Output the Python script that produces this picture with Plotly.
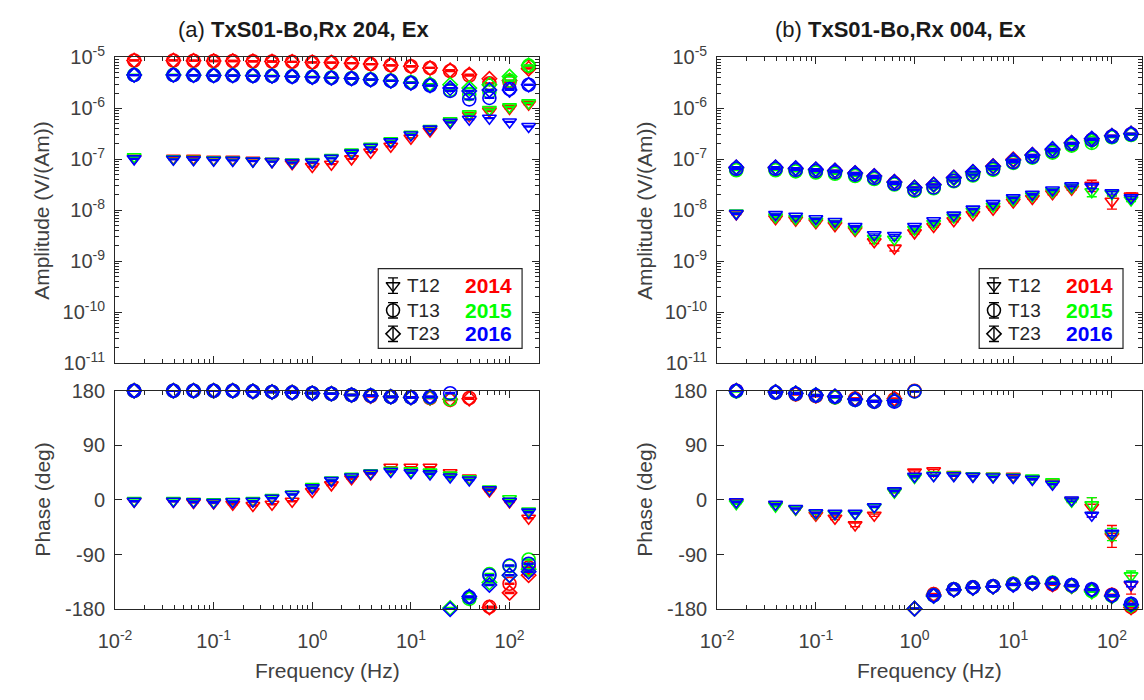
import plotly.graph_objects as go

W, H = 1144, 700

# ---------------- data ----------------
freq = [0.015625, 0.0390625, 0.0625, 0.1, 0.15625, 0.25, 0.390625, 0.625, 1.0, 1.5625,
        2.5, 3.90625, 6.25, 10.0, 15.625, 25.0, 39.0625, 62.5, 100.0, 156.25]

years = ['2014', '2015', '2016']
pairs = ['T12', 'T13', 'T23']
year_colors = ['#ff0000', '#00ff00', '#0000ff']

# (a) amplitude
a_amp_t12_2014 = [1.05e-7, 1.05e-7, 1.05e-7, 1.0e-7, 1.0e-7, 0.95e-7, 0.9e-7, 0.82e-7, 0.72e-7, 0.8e-7,
                  1.02e-7, 1.38e-7, 1.8e-7, 2.6e-7, 3.6e-7, 5.3e-7, 7.2e-7, 8.8e-7, 1.0e-6, 1.2e-6]
a_amp_t12_2015 = [1.12e-7, 1.02e-7, 1.0e-7, 0.98e-7, 0.97e-7, 0.93e-7, 0.91e-7, 0.88e-7, 0.9e-7, 1.08e-7,
                  1.38e-7, 1.8e-7, 2.3e-7, 3.1e-7, 4.0e-7, 5.7e-7, 7.8e-7, 9.5e-7, 1.07e-6, 1.28e-6]
a_amp_t12_2016 = [1.02e-7, 1.0e-7, 0.98e-7, 0.96e-7, 0.95e-7, 0.92e-7, 0.9e-7, 0.86e-7, 0.87e-7, 1.04e-7,
                  1.32e-7, 1.72e-7, 2.2e-7, 3.0e-7, 3.9e-7, 5.3e-7, 6.1e-7, 6.4e-7, 5.4e-7, 4.4e-7]
a_amp_t13_2014 = [8.7e-6, 8.7e-6, 8.6e-6, 8.5e-6, 8.5e-6, 8.4e-6, 8.3e-6, 8.2e-6, 8.0e-6, 7.9e-6,
                  7.7e-6, 7.4e-6, 7.0e-6, 6.7e-6, 6.2e-6, 5.4e-6, 4.4e-6, 3.1e-6, 3.3e-6, 6.6e-6]
a_amp_t23_2014 = [8.7e-6, 8.7e-6, 8.6e-6, 8.5e-6, 8.5e-6, 8.4e-6, 8.3e-6, 8.2e-6, 8.0e-6, 7.9e-6,
                  7.7e-6, 7.4e-6, 7.0e-6, 6.7e-6, 6.2e-6, 5.6e-6, 4.6e-6, 3.8e-6, 3.5e-6, 6.0e-6]
a_amp_t13_2015 = [4.55e-6, 4.55e-6, 4.5e-6, 4.45e-6, 4.45e-6, 4.4e-6, 4.35e-6, 4.25e-6, 4.15e-6, 4.0e-6,
                  3.9e-6, 3.7e-6, 3.5e-6, 3.25e-6, 2.9e-6, 2.3e-6, 1.9e-6, 2.1e-6, 3.5e-6, 6.9e-6]
a_amp_t23_2015 = [4.55e-6, 4.55e-6, 4.5e-6, 4.45e-6, 4.45e-6, 4.4e-6, 4.35e-6, 4.25e-6, 4.15e-6, 4.0e-6,
                  3.9e-6, 3.7e-6, 3.5e-6, 3.25e-6, 3.0e-6, 2.9e-6, 2.5e-6, 2.9e-6, 4.2e-6, 7.0e-6]
a_amp_t13_2016 = [4.5e-6, 4.5e-6, 4.45e-6, 4.4e-6, 4.4e-6, 4.35e-6, 4.3e-6, 4.2e-6, 4.1e-6, 3.95e-6,
                  3.85e-6, 3.65e-6, 3.45e-6, 3.15e-6, 2.8e-6, 2.2e-6, 1.5e-6, 1.6e-6, 2.4e-6, 2.9e-6]
a_amp_t23_2016 = [4.5e-6, 4.5e-6, 4.45e-6, 4.4e-6, 4.4e-6, 4.35e-6, 4.3e-6, 4.2e-6, 4.1e-6, 3.95e-6,
                  3.85e-6, 3.65e-6, 3.45e-6, 3.15e-6, 2.8e-6, 2.5e-6, 2.2e-6, 2.3e-6, 2.3e-6, 2.9e-6]

# (a) phase
a_ph_t12_2014 = [-2, -2, -4, -5, -7, -9, -7, -2, 14, 25, 35, 43, 54, 54, 54, 45, 36, 15, -3, -30]
a_ph_t12_2015 = [-1, -1, -2, -3, -2, -1, 4, 10, 22, 33, 39, 45, 49, 48, 46, 41, 35, 18, 2, -18]
a_ph_t12_2016 = [-2, -2, -3, -4, -3, -2, 3, 9, 20, 32, 38, 44, 47, 45, 43, 38, 33, 17, -2, -20]
a_ph_t13_2014 = [180, 180, 180, 180, 180, 179, 178, 177, 176, 175, 173, 171, 170, 169, 168, 165, 168, -176, -138, -111]
a_ph_t23_2014 = [180, 180, 180, 180, 180, 179, 178, 177, 176, 175, 173, 171, 170, 169, 168, 166, 167, -177, -153, -124]
a_ph_t13_2015 = [180, 180, 180, 180, 180, 179, 178, 177, 176, 175, 173, 172, 170, 169, 169, 166, -163, -122, -109, -98]
a_ph_t23_2015 = [180, 180, 180, 180, 180, 179, 178, 177, 176, 175, 173, 172, 170, 169, 169, -178, -162, -136, -124, -114]
a_ph_t13_2016 = [180, 180, 180, 180, 180, 179, 178, 177, 176, 175, 173, 172, 170, 169, 170, 176, -160, -124, -108, -105]
a_ph_t23_2016 = [180, 180, 180, 180, 180, 179, 178, 177, 176, 175, 173, 172, 170, 169, 170, -180, -159, -140, -124, -118]

# (b) amplitude
b_amp_t12_2014 = [8.5e-9, 6.8e-9, 6.4e-9, 5.7e-9, 5.0e-9, 4.0e-9, 2.4e-9, 1.8e-9, 3.6e-9, 4.8e-9,
                  6.2e-9, 8.2e-9, 1.05e-8, 1.45e-8, 1.7e-8, 2.1e-8, 2.6e-8, 3.1e-8, 1.5e-8, 1.9e-8]
b_amp_t12_2015 = [8.8e-9, 7.4e-9, 6.9e-9, 6.1e-9, 5.5e-9, 4.3e-9, 2.8e-9, 2.7e-9, 4.2e-9, 5.5e-9,
                  7.3e-9, 9.5e-9, 1.2e-8, 1.6e-8, 1.9e-8, 2.3e-8, 2.8e-8, 2.3e-8, 2.1e-8, 1.6e-8]
b_amp_t12_2016 = [8.6e-9, 8.2e-9, 7.6e-9, 6.8e-9, 6.0e-9, 4.8e-9, 3.3e-9, 3.2e-9, 4.8e-9, 6.2e-9,
                  8.0e-9, 1.05e-8, 1.35e-8, 1.75e-8, 2.05e-8, 2.5e-8, 3.0e-8, 2.9e-8, 2.2e-8, 1.75e-8]
b_amp_t12_errpct_2014 = [4, 4, 4, 4, 4, 5, 8, 12, 5, 4, 4, 4, 4, 4, 4, 4, 5, 25, 30, 15]
b_amp_t12_errpct_2015 = [3, 3, 3, 3, 3, 3, 4, 5, 3, 3, 3, 3, 3, 3, 3, 3, 4, 20, 10, 8]
b_amp_t12_errpct_2016 = [3, 3, 3, 3, 3, 3, 4, 4, 3, 3, 3, 3, 3, 3, 3, 3, 4, 8, 6, 6]
b_amp_t13_2014 = [6.4e-8, 6.4e-8, 6.1e-8, 5.8e-8, 5.5e-8, 5.0e-8, 4.3e-8, 3.4e-8, 2.5e-8, 2.8e-8,
                  3.8e-8, 5.0e-8, 6.6e-8, 9.0e-8, 1.12e-7, 1.4e-7, 1.95e-7, 2.4e-7, 2.8e-7, 3.1e-7]
b_amp_t23_2014 = [6.9e-8, 6.9e-8, 6.6e-8, 6.3e-8, 6.0e-8, 5.4e-8, 4.7e-8, 3.6e-8, 2.8e-8, 3.2e-8,
                  4.4e-8, 5.6e-8, 7.4e-8, 1.0e-7, 1.22e-7, 1.55e-7, 2.1e-7, 2.5e-7, 2.9e-7, 3.2e-7]
b_amp_t13_2015 = [6.1e-8, 6.1e-8, 5.8e-8, 5.5e-8, 5.2e-8, 4.7e-8, 4.1e-8, 3.2e-8, 2.4e-8, 2.7e-8,
                  3.7e-8, 4.8e-8, 6.2e-8, 8.5e-8, 1.08e-7, 1.35e-7, 1.85e-7, 2.1e-7, 2.7e-7, 3.0e-7]
b_amp_t23_2015 = [6.7e-8, 6.7e-8, 6.4e-8, 6.1e-8, 5.8e-8, 5.2e-8, 4.5e-8, 3.5e-8, 2.7e-8, 3.1e-8,
                  4.2e-8, 5.4e-8, 7.1e-8, 9.5e-8, 1.18e-7, 1.5e-7, 2.05e-7, 2.3e-7, 2.85e-7, 3.15e-7]
b_amp_t13_2016 = [6.5e-8, 6.5e-8, 6.2e-8, 5.9e-8, 5.6e-8, 5.0e-8, 4.3e-8, 3.3e-8, 2.5e-8, 2.8e-8,
                  3.8e-8, 5.0e-8, 6.5e-8, 8.8e-8, 1.12e-7, 1.45e-7, 2.0e-7, 2.4e-7, 2.8e-7, 3.1e-7]
b_amp_t23_2016 = [7.0e-8, 7.0e-8, 6.7e-8, 6.4e-8, 6.0e-8, 5.4e-8, 4.7e-8, 3.6e-8, 2.8e-8, 3.2e-8,
                  4.4e-8, 5.7e-8, 7.3e-8, 9.7e-8, 1.22e-7, 1.6e-7, 2.1e-7, 2.55e-7, 2.9e-7, 3.2e-7]

# (b) phase
b_ph_t12_2014 = [-4, -8, -15, -25, -30, -41, -25, 14, 46, 48, 42, 40, 39, 39, 35, 28, -1, -12, -60, -140]
b_ph_t12_2015 = [-6, -10, -15, -22, -23, -23, -12, 13, 37, 41, 41, 40, 39, 38, 36, 30, -2, -8, -57, -125]
b_ph_t12_2016 = [-3, -7, -14, -21, -22, -22, -11, 15, 39, 40, 40, 39, 38, 37, 34, 26, 0, -25, -55, -139]
b_ph_t12_err_2014 = [1, 1, 1, 2, 2, 3, 2, 2, 2, 2, 1, 1, 1, 1, 1, 1, 2, 16, 18, 15]
b_ph_t12_err_2015 = [1, 1, 1, 1, 1, 1, 1, 1, 1, 1, 1, 1, 1, 1, 1, 1, 2, 12, 10, 8]
b_ph_t12_err_2016 = [1, 1, 1, 1, 1, 1, 1, 1, 1, 1, 1, 1, 1, 1, 1, 1, 2, 3, 4, 4]
b_ph_t13_2014 = [180, 177, 174, 171, 169, 167, 162, 166, 180, -155, -147, -144, -142, -138, -137, -139, -141, -148, -156, -176]
b_ph_t23_2014 = [180, 178, 175, 172, 170, 167, 163, 167, -179, -156, -148, -145, -143, -139, -137, -139, -142, -149, -157, -177]
b_ph_t13_2015 = [179, 177, 175, 172, 169, 165, 162, 163, 179, -157, -147, -144, -142, -138, -136, -136, -141, -150, -158, -173]
b_ph_t23_2015 = [180, 178, 176, 173, 170, 166, 163, 164, -179, -158, -148, -145, -143, -139, -137, -137, -142, -151, -159, -174]
b_ph_t13_2016 = [180, 177, 175, 172, 170, 165, 162, 162, 179, -157, -147, -144, -142, -139, -137, -137, -140, -147, -157, -171]
b_ph_t23_2016 = [180, 178, 176, 173, 171, 166, 163, 164, -179, -158, -148, -145, -143, -140, -137, -138, -141, -148, -158, -172]

x_tickvals = [0.01, 0.1, 1, 10, 100]
x_ticktext = ['10<sup>-2</sup>', '10<sup>-1</sup>', '10<sup>0</sup>', '10<sup>1</sup>', '10<sup>2</sup>']
amp_tickvals = [1e-11, 1e-10, 1e-9, 1e-8, 1e-7, 1e-6, 1e-5]
amp_ticktext = ['10<sup>-11</sup>', '10<sup>-10</sup>', '10<sup>-9</sup>', '10<sup>-8</sup>',
                '10<sup>-7</sup>', '10<sup>-6</sup>', '10<sup>-5</sup>']
ph_tickvals = [-180, -90, 0, 90, 180]
ph_ticktext = ['-180', '-90', '0', '90', '180']

titles = ['(a) <b>TxS01-Bo,Rx 204, Ex</b>', '(b) <b>TxS01-Bo,Rx 004, Ex</b>']

# ---------------- tables built from the arrays ----------------
amp_a = {('T12', '2014'): a_amp_t12_2014, ('T12', '2015'): a_amp_t12_2015, ('T12', '2016'): a_amp_t12_2016,
         ('T13', '2014'): a_amp_t13_2014, ('T13', '2015'): a_amp_t13_2015, ('T13', '2016'): a_amp_t13_2016,
         ('T23', '2014'): a_amp_t23_2014, ('T23', '2015'): a_amp_t23_2015, ('T23', '2016'): a_amp_t23_2016}
ph_a = {('T12', '2014'): a_ph_t12_2014, ('T12', '2015'): a_ph_t12_2015, ('T12', '2016'): a_ph_t12_2016,
        ('T13', '2014'): a_ph_t13_2014, ('T13', '2015'): a_ph_t13_2015, ('T13', '2016'): a_ph_t13_2016,
        ('T23', '2014'): a_ph_t23_2014, ('T23', '2015'): a_ph_t23_2015, ('T23', '2016'): a_ph_t23_2016}
amp_b = {('T12', '2014'): b_amp_t12_2014, ('T12', '2015'): b_amp_t12_2015, ('T12', '2016'): b_amp_t12_2016,
         ('T13', '2014'): b_amp_t13_2014, ('T13', '2015'): b_amp_t13_2015, ('T13', '2016'): b_amp_t13_2016,
         ('T23', '2014'): b_amp_t23_2014, ('T23', '2015'): b_amp_t23_2015, ('T23', '2016'): b_amp_t23_2016}
ph_b = {('T12', '2014'): b_ph_t12_2014, ('T12', '2015'): b_ph_t12_2015, ('T12', '2016'): b_ph_t12_2016,
        ('T13', '2014'): b_ph_t13_2014, ('T13', '2015'): b_ph_t13_2015, ('T13', '2016'): b_ph_t13_2016,
        ('T23', '2014'): b_ph_t23_2014, ('T23', '2015'): b_ph_t23_2015, ('T23', '2016'): b_ph_t23_2016}
amp_b_errpct = {'2014': b_amp_t12_errpct_2014, '2015': b_amp_t12_errpct_2015, '2016': b_amp_t12_errpct_2016}
ph_b_err = {'2014': b_ph_t12_err_2014, '2015': b_ph_t12_err_2015, '2016': b_ph_t12_err_2016}

# ---------------- styling ----------------
symbols = {'T12': 'triangle-down-open', 'T13': 'circle-open', 'T23': 'diamond-open'}
sizes = {'T12': 12, 'T13': 13, 'T23': 11}
FONT = 'Liberation Sans, Arial, Helvetica, sans-serif'
AXC = '#262626'
TXC = '#404040'

def px(x):
    return x / W

def py(y):
    return 1 - y / H

fig = go.Figure()

def add_series(xa, ya, yvals, pair, color, err):
    fig.add_trace(go.Scatter(
        x=freq, y=yvals, mode='markers', xaxis=xa, yaxis=ya, showlegend=False,
        cliponaxis=False,
        marker=dict(symbol=symbols[pair], size=sizes[pair], color=color, line=dict(color=color, width=1.6)),
        error_y=dict(err, color=color, thickness=1.4, width=5),
    ))

for yi, year in enumerate(years):
    color = year_colors[yi]
    for pair in pairs:
        add_series('x', 'y', amp_a[(pair, year)], pair, color, dict(type='percent', value=2))
        add_series('x2', 'y2', ph_a[(pair, year)], pair, color, dict(type='constant', value=1))
        if pair == 'T12':
            aerr = dict(type='data', array=[v * p / 100 for v, p in zip(amp_b[(pair, year)], amp_b_errpct[year])])
            perr = dict(type='data', array=ph_b_err[year])
        else:
            aerr = dict(type='percent', value=2)
            perr = dict(type='constant', value=1)
        add_series('x3', 'y3', amp_b[(pair, year)], pair, color, aerr)
        add_series('x4', 'y4', ph_b[(pair, year)], pair, color, perr)

# geometry (pixels)
L_X0, L_X1 = 99.5, 530.0
R_X0, R_X1 = 710.7, 1141.5
A_Y0, A_Y1 = 45.0, 362.0
P_Y0, P_Y1 = 390.7, 617.3

x_minor = [m * 10 ** e for e in range(-2, 3) for m in range(2, 10)]
amp_minor = [m * 10.0 ** e for e in range(-11, -5) for m in range(2, 10)]

def base_axis():
    return dict(showline=True, mirror='ticks', linecolor=AXC, linewidth=1, ticks='inside', ticklen=7,
                tickcolor=AXC, tickwidth=1, showgrid=False, zeroline=False,
                tickfont=dict(family=FONT, size=20, color=TXC))

def xaxis_def(x0, x1, anchor, labels):
    d = base_axis()
    d.update(type='log', range=[-2, 2.3], domain=[px(x0), px(x1)], anchor=anchor,
             tickmode='array', tickvals=x_tickvals, ticktext=x_ticktext, showticklabels=labels,
             ticklabelstandoff=14,
             minor=dict(tickmode='array', tickvals=x_minor, ticks='inside', ticklen=4, tickcolor=AXC))
    return d

def amp_axis(anchor):
    d = base_axis()
    d.update(type='log', range=[-11, -5], domain=[py(A_Y1), py(A_Y0)], anchor=anchor,
             tickmode='array', tickvals=amp_tickvals, ticktext=amp_ticktext, ticklabelstandoff=5,
             minor=dict(tickmode='array', tickvals=amp_minor, ticks='inside', ticklen=4, tickcolor=AXC))
    return d

def ph_axis(anchor):
    d = base_axis()
    d.update(range=[-180, 180], domain=[py(P_Y1), py(P_Y0)], anchor=anchor,
             tickmode='array', tickvals=ph_tickvals, ticktext=ph_ticktext, ticklabelstandoff=5)
    return d

layout = dict(
    width=W, height=H, margin=dict(l=0, r=0, t=0, b=0),
    paper_bgcolor='white', plot_bgcolor='white', showlegend=False,
    xaxis=xaxis_def(L_X0, L_X1, 'y', False),
    yaxis=amp_axis('x'),
    xaxis2=xaxis_def(L_X0, L_X1, 'y2', True),
    yaxis2=ph_axis('x2'),
    xaxis3=xaxis_def(R_X0, R_X1, 'y3', False),
    yaxis3=amp_axis('x3'),
    xaxis4=xaxis_def(R_X0, R_X1, 'y4', True),
    yaxis4=ph_axis('x4'),
)

# ---------------- legend boxes ----------------
LEG_W = 146.0
LEG_Y0, LEG_Y1 = 264.0, 346.7
row_y = [281.7, 307.3, 331.7]
shapes = []
annotations = []
for k, rx1 in enumerate([512.7, 1122.7]):
    rx0 = rx1 - LEG_W
    xa, ya = 'xaxis%d' % (5 + k), 'yaxis%d' % (5 + k)
    layout[xa] = dict(domain=[px(rx0), px(rx1)], range=[0, LEG_W], visible=False, fixedrange=True,
                      anchor='y%d' % (5 + k))
    layout[ya] = dict(domain=[py(LEG_Y1), py(LEG_Y0)], range=[LEG_Y1, LEG_Y0], visible=False,
                      fixedrange=True, anchor='x%d' % (5 + k))
    shapes.append(dict(type='rect', xref='paper', yref='paper', x0=px(rx0), x1=px(rx1),
                       y0=py(LEG_Y1), y1=py(LEG_Y0), line=dict(color=AXC, width=1.2),
                       fillcolor='rgba(0,0,0,0)', layer='above'))
    for i, pair in enumerate(pairs):
        fig.add_trace(go.Scatter(
            x=[15], y=[row_y[i]], mode='markers', xaxis='x%d' % (5 + k), yaxis='y%d' % (5 + k),
            showlegend=False, cliponaxis=False,
            marker=dict(symbol=symbols[pair], size=sizes[pair], color='black', line=dict(color='black', width=1.5)),
            error_y=dict(type='constant', value=8, color='black', thickness=1.4, width=5),
        ))
        annotations.append(dict(xref='paper', yref='paper', x=px(rx0 + 27), y=py(row_y[i]),
                                xanchor='left', yanchor='middle', showarrow=False, text=pair,
                                font=dict(family=FONT, size=19, color='#262626')))
        annotations.append(dict(xref='paper', yref='paper', x=px(rx1 - 8), y=py(row_y[i]),
                                xanchor='right', yanchor='middle', showarrow=False,
                                text='<b>%s</b>' % years[i],
                                font=dict(family=FONT, size=21, color=year_colors[i])))

# ---------------- titles & axis labels ----------------
for t, cx in zip(titles, [291, 897]):
    annotations.append(dict(xref='paper', yref='paper', x=px(cx), y=py(16), xanchor='center',
                            yanchor='middle', showarrow=False, text=t,
                            font=dict(family=FONT, size=22, color='#1a1a1a')))
for x0, x1 in [(L_X0, L_X1), (R_X0, R_X1)]:
    annotations.append(dict(xref='paper', yref='paper', x=px((x0 + x1) / 2), y=py(681),
                            xanchor='center', yanchor='middle', showarrow=False, text='Frequency (Hz)',
                            font=dict(family=FONT, size=21, color=TXC)))
    annotations.append(dict(xref='paper', yref='paper', x=px(x0 - 74.5), y=py((A_Y0 + A_Y1) / 2),
                            xanchor='center', yanchor='middle', showarrow=False, textangle=-90,
                            text='Amplitude (V/(Am))', font=dict(family=FONT, size=21, color=TXC)))
    annotations.append(dict(xref='paper', yref='paper', x=px(x0 - 74.5), y=py((P_Y0 + P_Y1) / 2),
                            xanchor='center', yanchor='middle', showarrow=False, textangle=-90,
                            text='Phase (deg)', font=dict(family=FONT, size=21, color=TXC)))

layout['shapes'] = shapes
layout['annotations'] = annotations
fig.update_layout(**layout)

fig.write_html('out.html')
